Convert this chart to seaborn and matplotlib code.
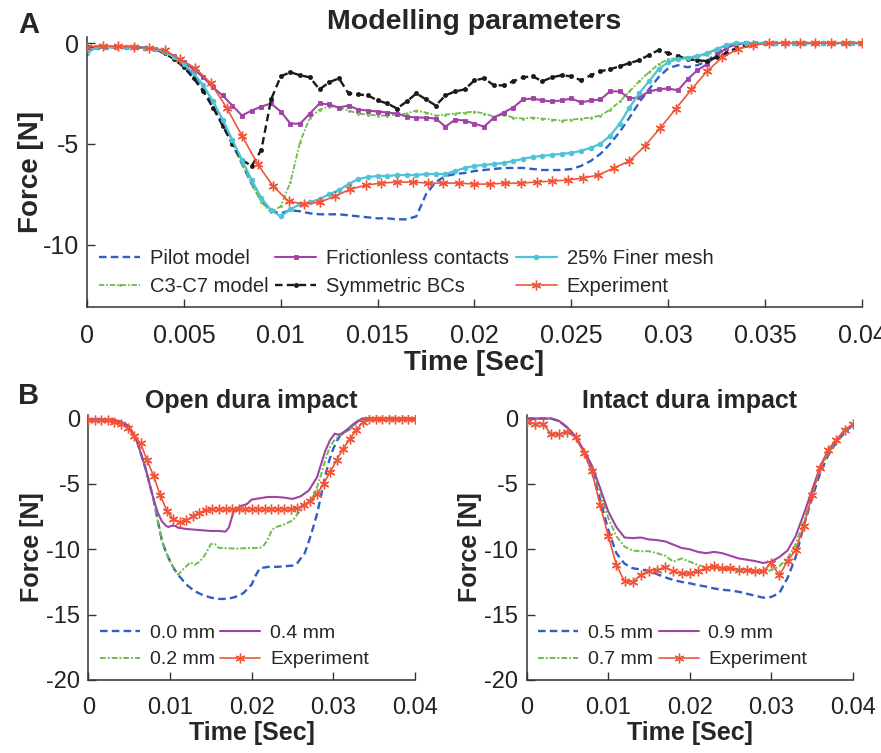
import numpy as np
import matplotlib
matplotlib.use("Agg")
import matplotlib.pyplot as plt
import seaborn as sns

# ---------------- data: panel A (Modelling parameters) ----------------
t_model = np.linspace(0, 0.04, 81)      # model sampling times (0.5 ms)
t_exp_a = np.linspace(0, 0.04, 51)      # experiment sampling times (0.8 ms)

pilot = [-0.2, -0.2, -0.2, -0.2, -0.2, -0.2, -0.25, -0.3,
         -0.5, -0.75, -1.15, -1.65, -2.3, -3.1, -4.0, -5.0,
         -6.0, -7.0, -7.8, -8.35, -8.45, -8.3, -8.35, -8.45,
         -8.5, -8.5, -8.5, -8.55, -8.6, -8.65, -8.7, -8.7,
         -8.75, -8.75, -8.6, -7.5, -6.9, -6.6, -6.5, -6.45,
         -6.35, -6.3, -6.25, -6.2, -6.2, -6.2, -6.25, -6.3,
         -6.3, -6.3, -6.25, -6.1, -5.85, -5.5, -5.0, -4.4,
         -3.7, -2.95, -2.3, -1.7, -1.25, -1.1, -1.2, -1.1,
         -0.9, -0.5, -0.2, -0.05, 0, 0, 0, 0,
         0, 0, 0, 0, 0, 0, 0, 0, 0]
c3c7 = [-0.2, -0.2, -0.2, -0.2, -0.2, -0.2, -0.25, -0.3,
        -0.45, -0.7, -1.05, -1.5, -2.1, -2.9, -3.8, -4.9,
        -6.0, -7.0, -7.9, -8.4, -8.1, -6.9, -4.9, -3.7,
        -3.3, -3.15, -3.2, -3.35, -3.5, -3.55, -3.6, -3.6,
        -3.55, -3.5, -3.35, -3.45, -3.6, -3.55, -3.5, -3.45,
        -3.4, -3.5, -3.65, -3.55, -3.7, -3.75, -3.7, -3.75,
        -3.8, -3.85, -3.8, -3.75, -3.7, -3.6, -3.3, -2.9,
        -2.4, -1.9, -1.45, -1.05, -0.8, -0.75, -0.7, -0.65,
        -0.6, -0.35, -0.15, -0.05, 0, 0, 0, 0,
        0, 0, 0, 0, 0, 0, 0, 0, 0]
frictionless = [-0.2, -0.2, -0.2, -0.2, -0.2, -0.2, -0.25, -0.3,
                -0.45, -0.65, -0.95, -1.3, -1.7, -2.2, -2.6, -3.1,
                -3.6, -3.35, -3.15, -3.0, -3.4, -4.0, -4.0, -3.5,
                -3.0, -3.05, -3.2, -3.1, -3.3, -3.35, -3.4, -3.45,
                -3.5, -3.65, -3.7, -3.7, -3.75, -4.15, -3.8, -3.85,
                -4.0, -4.15, -3.7, -3.45, -3.2, -2.8, -2.75, -2.85,
                -2.9, -2.85, -2.75, -2.95, -2.85, -2.8, -2.4, -2.4,
                -2.75, -2.7, -2.4, -2.3, -2.25, -2.35, -1.8, -1.35,
                -1.05, -0.6, -0.25, -0.05, 0, 0, 0, 0,
                0, 0, 0, 0, 0, 0, 0, 0, 0]
symmetric = [-0.2, -0.2, -0.2, -0.2, -0.2, -0.2, -0.25, -0.3,
             -0.5, -0.8, -1.2, -1.75, -2.4, -3.2, -4.1, -5.0,
             -5.8, -6.1, -5.3, -2.8, -1.65, -1.45, -1.6, -1.7,
             -2.3, -1.95, -1.75, -2.5, -2.55, -2.6, -2.85, -3.0,
             -3.25, -2.9, -2.5, -2.8, -3.1, -2.6, -2.4, -2.3,
             -1.85, -1.75, -2.1, -2.1, -1.9, -1.7, -1.65, -1.9,
             -1.7, -1.6, -1.65, -1.85, -1.6, -1.4, -1.3, -1.15,
             -1.0, -0.85, -0.6, -0.35, -0.5, -0.65, -0.8, -0.85,
             -0.9, -0.7, -0.5, -0.25, -0.1]
finer = [-0.5, -0.2, -0.2, -0.2, -0.2, -0.2, -0.25, -0.3,
         -0.45, -0.7, -1.05, -1.5, -2.1, -2.9, -3.8, -4.8,
         -5.8, -6.8, -7.7, -8.3, -8.6, -8.25, -8.0, -7.9,
         -7.75, -7.5, -7.3, -7.0, -6.75, -6.65, -6.6, -6.6,
         -6.55, -6.55, -6.55, -6.5, -6.5, -6.5, -6.35, -6.2,
         -6.1, -6.05, -6.0, -5.95, -5.85, -5.75, -5.65, -5.6,
         -5.55, -5.5, -5.45, -5.35, -5.2, -5.0, -4.6, -4.0,
         -3.2, -2.5, -1.9, -1.3, -0.95, -0.8, -0.75, -0.65,
         -0.5, -0.3, -0.1, 0, 0, 0, 0, 0,
         0, 0, 0, 0, 0, 0, 0, 0, 0]
exp_a = [-0.2, -0.15, -0.15, -0.2, -0.25, -0.35, -0.8, -1.25, -2.0, -3.2,
         -4.6, -6.0, -7.1, -7.85, -8.0, -7.9, -7.6, -7.25, -7.05, -6.95,
         -6.9, -6.9, -6.95, -6.95, -6.95, -7.0, -7.0, -6.95, -6.95, -6.9,
         -6.85, -6.8, -6.7, -6.55, -6.2, -5.85, -5.1, -4.2, -3.25, -2.3,
         -1.4, -0.7, -0.3, -0.1, 0, 0, 0, 0, 0, 0, 0]

# ---------------- data: panel B left (Open dura impact) ----------------
t_b0 = [0, .003, .004, .005, .006, .007, .0075, .008, .0085, .009,
        .0095, .010, .0105, .011, .012, .013, .014, .015, .016, .017,
        .018, .019, .020, .0205, .021, .022, .023, .024, .025, .0255,
        .026, .0265, .027, .0275, .028, .0285, .029, .0295, .030, .0305,
        .031, .032, .033, .034, .040]
open_00 = [-0.05, -0.1, -0.25, -0.6, -1.8, -3.8, -5.0, -6.2, -7.8, -9.3,
           -10.2, -10.9, -11.5, -11.95, -12.7, -13.2, -13.5, -13.7, -13.8, -13.8,
           -13.65, -13.35, -12.7, -12.0, -11.45, -11.35, -11.35, -11.3, -11.25, -11.15,
           -10.7, -10.3, -9.4, -8.4, -7.3, -5.9, -4.4, -3.2, -2.3, -1.65,
           -1.15, -0.8, -0.2, 0, 0]
t_b2 = [0, .003, .004, .005, .006, .007, .0075, .008, .0085, .009,
        .0095, .010, .0105, .011, .0115, .012, .0125, .013, .0135, .014,
        .0145, .015, .0155, .016, .018, .020, .021, .0215, .022, .0225,
        .023, .024, .025, .026, .0265, .027, .0275, .028, .0285, .029,
        .0295, .030, .0305, .031, .032, .033, .034, .040]
open_02 = [-0.05, -0.1, -0.25, -0.6, -1.8, -3.8, -5.0, -6.2, -7.8, -9.3,
           -10.2, -10.9, -11.5, -11.95, -11.6, -11.3, -11.0, -11.2, -11.0, -10.7,
           -10.2, -9.6, -9.6, -9.9, -9.95, -9.9, -9.9, -9.7, -9.2, -8.5,
           -8.3, -8.1, -7.8, -7.0, -6.7, -6.35, -6.0, -5.25, -4.3, -3.2,
           -2.3, -1.75, -1.45, -1.25, -0.85, -0.2, 0, 0]
t_b4 = [0, .003, .004, .005, .006, .007, .0075, .008, .0085, .009,
        .0095, .0098, .0102, .0106, .011, .012, .013, .014, .015, .016,
        .0168, .0172, .0178, .0186, .0194, .020, .021, .022, .023, .024,
        .025, .026, .027, .028, .0285, .029, .0296, .0302, .0306, .031,
        .0316, .0324, .0335, .040]
open_04 = [-0.05, -0.1, -0.25, -0.6, -1.8, -3.8, -5.0, -6.2, -7.2, -7.85,
           -8.2, -8.3, -8.2, -8.2, -8.35, -8.45, -8.5, -8.55, -8.6, -8.6,
           -8.65, -8.35, -7.1, -6.7, -6.55, -6.2, -6.1, -6.0, -6.0, -6.05,
           -6.15, -5.95, -5.5, -4.5, -3.5, -2.5, -1.65, -1.15, -1.25, -1.15,
           -0.9, -0.45, 0, 0]
t_exp_b = np.linspace(0, 0.04, 51)
open_exp = [-0.1, -0.1, -0.1, -0.15, -0.25, -0.4, -0.7, -1.3, -1.9, -3.2,
            -4.4, -5.85, -7.05, -7.7, -7.95, -7.8, -7.45, -7.2, -7.0, -6.9,
            -6.9, -6.9, -6.9, -6.9, -6.9, -6.9, -6.9, -6.9, -6.9, -6.9,
            -6.9, -6.9, -6.85, -6.6, -6.3, -5.8, -5.0, -4.1, -3.2, -2.3,
            -1.6, -0.9, -0.3, 0, 0, 0, 0, 0, 0, 0, 0]

# ---------------- data: panel B right (Intact dura impact) ----------------
t_c = np.linspace(0, 0.04, 41)
t_c5 = [0, .003, .004, .005, .006, .007, .008, .009, .010, .011,
        .012, .013, .014, .015, .016, .017, .018, .019, .020, .021,
        .022, .023, .024, .025, .026, .027, .028, .029, .030, .031,
        .032, .033, .034, .035, .036, .037, .038, .039, .040]
intact_05 = [0, 0, -0.2, -0.7, -1.4, -2.5, -4.0, -6.2, -8.5, -10.3,
             -11.1, -11.45, -11.55, -11.65, -11.9, -12.15, -12.35, -12.5, -12.6, -12.75,
             -12.85, -13.0, -13.1, -13.15, -13.25, -13.4, -13.55, -13.7, -13.65, -13.35,
             -12.2, -10.6, -8.2, -6.1, -4.2, -2.8, -1.8, -1.1, -0.5]
intact_07 = [0, 0, 0, 0, -0.2, -0.7, -1.4, -2.5, -3.8, -5.6,
             -7.6, -9.0, -9.8, -10.1, -10.15, -10.15, -10.3, -10.5, -10.95, -10.7,
             -10.95, -11.2, -11.4, -11.5, -11.55, -11.6, -11.6, -11.65, -11.65, -11.75,
             -11.6, -11.3, -10.7, -9.6, -7.9, -5.8, -3.9, -2.6, -1.8, -1.0, -0.5]
intact_09 = [0, 0, 0, 0, -0.2, -0.7, -1.4, -2.4, -3.6, -5.3,
             -7.1, -8.3, -9.1, -9.15, -9.1, -9.25, -9.3, -9.4, -9.65, -9.9,
             -10.0, -10.2, -10.3, -10.2, -10.3, -10.5, -10.7, -10.8, -10.9, -11.05,
             -10.95, -10.6, -10.1, -9.0, -7.3, -5.5, -3.7, -2.4, -1.65, -0.95, -0.45]
intact_exp = [-0.25, -0.4, -0.4, -1.2, -1.2, -1.0, -1.45, -2.6, -4.05, -6.6,
              -8.95, -11.2, -12.45, -12.5, -11.95, -11.65, -11.6, -11.35, -11.7, -11.85,
              -11.85, -11.7, -11.45, -11.3, -11.45, -11.45, -11.55, -11.6, -11.7, -11.7,
              -11.05, -12.0, -10.9, -10.05, -8.25, -5.85, -3.8, -2.4, -1.65, -0.85, -0.45]

xticks_a = [0, 0.005, 0.01, 0.015, 0.02, 0.025, 0.03, 0.035, 0.04]
xticklabels_a = ["0", "0.005", "0.01", "0.015", "0.02", "0.025", "0.03", "0.035", "0.04"]
yticks_a = [-10, -5, 0]
xticks_b = [0, 0.01, 0.02, 0.03, 0.04]
xticklabels_b = ["0", "0.01", "0.02", "0.03", "0.04"]
yticks_b = [-20, -15, -10, -5, 0]

# ---------------- styling ----------------
sns.set_style("ticks")
plt.rcParams["font.family"] = ["Liberation Sans", "DejaVu Sans"]
plt.rcParams["axes.unicode_minus"] = False

BLUE = "#2F5EC4"
GREEN = "#6CBE45"
PURPLE = "#A043A6"
BLACK = "#1A1A1A"
CYAN = "#4DC3D8"
ORANGE = "#F0553A"
AST = (6, 2, 0)

W, H = 881, 753
fig = plt.figure(figsize=(W / 100, H / 100), dpi=100)


def px_axes(x0, x1, ytop, ybot):
    return fig.add_axes([x0 / W, 1 - ybot / H, (x1 - x0) / W, (ybot - ytop) / H])


def style_axes(ax, xticks, xticklabels, yticks, xlim, ylim, tick_fs, lab_fs, ypad):
    ax.set_xlim(*xlim)
    ax.set_ylim(*ylim)
    ax.set_xticks(xticks)
    ax.set_xticklabels(xticklabels)
    ax.set_yticks(yticks)
    ax.set_yticklabels([str(v) for v in yticks])
    for s in ["top", "right"]:
        ax.spines[s].set_visible(False)
    for s in ["left", "bottom"]:
        ax.spines[s].set_color("#333333")
        ax.spines[s].set_linewidth(1.1)
    ax.tick_params(direction="in", length=6, width=1, colors="#333333",
                   labelcolor="#222222", labelsize=tick_fs)
    ax.tick_params(axis="x", pad=12)
    ax.tick_params(axis="y", pad=6)
    ax.set_xlabel("Time [Sec]", fontsize=lab_fs, fontweight="bold", labelpad=2)
    ax.set_ylabel("Force [N]", fontsize=lab_fs, fontweight="bold", labelpad=ypad)


def draw(ax, x, y, color, label, ls="-", lw=1.4, marker=None, ms=4, mew=1.0, z=2):
    kw = dict(x=np.asarray(x, float), y=np.asarray(y, float), ax=ax, color=color,
              linestyle=ls, linewidth=lw, label=label, zorder=z, legend=False)
    if marker is not None:
        kw.update(marker=marker, markersize=ms, markeredgecolor=color,
                  markeredgewidth=mew, markerfacecolor=color)
    sns.lineplot(**kw)


def add_legend(ax, ncol, fs, yanchor):
    ax.legend(loc="lower left", bbox_to_anchor=(0.0, yanchor), ncol=ncol, frameon=False,
              fontsize=fs, handlelength=2.05, handletextpad=0.5, columnspacing=0.3,
              labelspacing=0.45, borderaxespad=0.2)


# ---------------- Panel A ----------------
axA = px_axes(87, 862, 37, 307)
draw(axA, t_model, pilot, BLUE, "Pilot model", ls=(0, (3.2, 1.8)), lw=1.7)
draw(axA, t_model, c3c7, GREEN, "C3-C7 model", ls=(0, (3, 1, 1, 1)), lw=1.3,
     marker="o", ms=1.6, mew=0.4)
draw(axA, t_model, frictionless, PURPLE, "Frictionless contacts", lw=1.5,
     marker="s", ms=3, mew=0.6)
draw(axA, t_model[:len(symmetric)], symmetric, BLACK, "Symmetric BCs",
     ls=(0, (3.2, 1.8)), lw=1.7, marker="o", ms=3, mew=0.5)
draw(axA, t_model, finer, CYAN, "25% Finer mesh", lw=1.6, marker="o", ms=3.5, mew=0.5)
draw(axA, t_exp_a, exp_a, ORANGE, "Experiment", lw=1.2, marker=AST, ms=7, mew=1.0, z=3)
style_axes(axA, xticks_a, xticklabels_a, yticks_a, (0, 0.04), (-13.1, 0.3),
           tick_fs=18, lab_fs=20, ypad=-1)
axA.set_title("Modelling parameters", fontsize=20.5, fontweight="bold", pad=6)
add_legend(axA, 3, 14.5, -0.005)

# ---------------- Panel B left ----------------
axB = px_axes(88.3, 415, 414.6, 680)
draw(axB, t_b0, open_00, BLUE, "0.0 mm", ls=(0, (3.2, 1.8)), lw=1.7)
draw(axB, t_b2, open_02, GREEN, "0.2 mm", ls=(0, (3, 1, 1, 1)), lw=1.4)
draw(axB, t_b4, open_04, PURPLE, "0.4 mm", lw=1.5)
draw(axB, t_exp_b, open_exp, ORANGE, "Experiment", lw=1.2, marker=AST, ms=7, mew=1.0, z=3)
style_axes(axB, xticks_b, xticklabels_b, yticks_b, (0, 0.04), (-20, 0.3),
           tick_fs=17, lab_fs=18, ypad=1.5)
axB.set_title("Open dura impact", fontsize=18, fontweight="bold", pad=5)
add_legend(axB, 2, 14, 0.0)

# ---------------- Panel B right ----------------
axC = px_axes(526.7, 852.7, 414.6, 680)
draw(axC, t_c5, intact_05, BLUE, "0.5 mm", ls=(0, (3.2, 1.8)), lw=1.7)
draw(axC, t_c, intact_07, GREEN, "0.7 mm", ls=(0, (3, 1, 1, 1)), lw=1.4)
draw(axC, t_c, intact_09, PURPLE, "0.9 mm", lw=1.5)
draw(axC, t_c, intact_exp, ORANGE, "Experiment", lw=1.2, marker=AST, ms=7, mew=1.0, z=3)
style_axes(axC, xticks_b, xticklabels_b, yticks_b, (0, 0.04), (-20, 0.3),
           tick_fs=17, lab_fs=18, ypad=1.5)
axC.set_title("Intact dura impact", fontsize=18, fontweight="bold", pad=5)
add_legend(axC, 2, 14, 0.0)

fig.text(29 / W, 1 - 25 / H, "A", fontsize=21, fontweight="bold", ha="center", va="center")
fig.text(29 / W, 1 - 396 / H, "B", fontsize=21, fontweight="bold", ha="center", va="center")

fig.savefig("out.png", dpi=100)
